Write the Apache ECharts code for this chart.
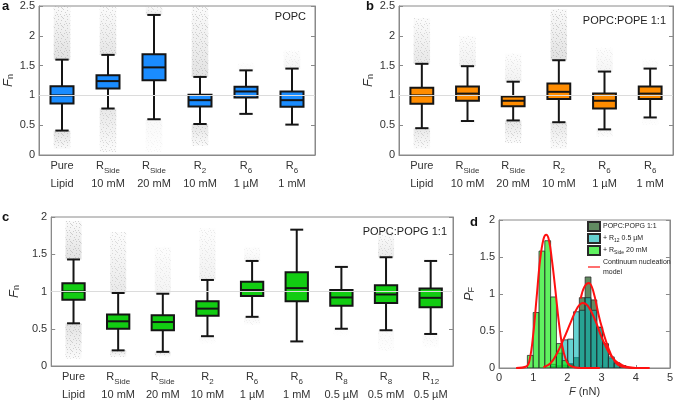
<!DOCTYPE html>
<html><head><meta charset="utf-8">
<script src="https://cdn.jsdelivr.net/npm/echarts@6/dist/echarts.min.js"></script>
<style>html,body{margin:0;padding:0;background:#fff}#c{width:676px;height:404px}</style>
</head><body><div id="c"></div>
<script>
// ---------- DATA ----------
const topAB = ['Pure','R','R','R','R','R'];
const subAB = ['','Side','Side','2','6','6'];
const botAB = ['Lipid','10 mM','20 mM','10 mM','1 µM','1 mM'];
const topC = ['Pure','R','R','R','R','R','R','R','R'];
const subC = ['','Side','Side','2','6','6','8','8','12'];
const botC = ['Lipid','10 mM','20 mM','10 mM','1 µM','1 mM','0.5 µM','0.5 mM','0.5 µM'];

// [low whisker, Q1, median, Q3, high whisker]
const boxA = [[0.41,0.865,1.0,1.155,1.60],[0.78,1.116,1.24,1.34,1.68],[0.60,1.256,1.47,1.69,2.35],
              [0.52,0.815,0.92,1.01,1.31],[0.69,0.965,1.066,1.144,1.42],[0.51,0.81,0.92,1.066,1.45]];
const boxB = [[0.45,0.86,1.0,1.13,1.53],[0.57,0.91,1.03,1.15,1.49],[0.58,0.82,0.91,0.98,1.23],
              [0.55,0.94,1.06,1.20,1.59],[0.43,0.78,0.91,1.03,1.40],[0.63,0.94,1.03,1.15,1.45]];
const boxC = [[0.573,0.89,1.0,1.11,1.43],[0.21,0.50,0.60,0.69,0.98],[0.19,0.48,0.59,0.68,0.97],
              [0.40,0.675,0.77,0.87,1.155],[0.66,0.94,1.02,1.13,1.41],[0.33,0.87,1.045,1.26,1.83],
              [0.50,0.81,0.92,1.02,1.33],[0.48,0.845,0.96,1.085,1.46],[0.43,0.79,0.915,1.04,1.41]];

// outlier clouds: [upper extent, upper density, lower extent, lower density]
const cloudA = [[2.5,0.9,0.1,0.85],[2.5,0.75,0.05,0.7],[2.5,0.6,0.05,0.2],[2.5,0.85,0.15,0.8],[1.55,0.12,0.6,0.06],[1.75,0.3,0.45,0.06]];
const cloudB = [[2.3,0.7,0.1,0.7],[2.0,0.45,0.5,0.1],[1.7,0.4,0.2,0.75],[2.45,0.9,0.1,0.7],[1.8,0.3,0.3,0.25],[1.6,0.12,0.5,0.12]];
const cloudC = [[1.95,0.9,0.1,0.85],[1.8,0.65,0.12,0.7],[1.6,0.35,0.13,0.7],[1.85,0.4,0.3,0.12],[1.6,0.25,0.55,0.25],
                [1.83,0,0.33,0],[1.4,0.06,0.4,0.06],[1.8,0.6,0.2,0.18],[1.45,0.06,0.25,0.18]];

// panel d histograms: bin left edges, bin width, heights
const binW = 0.17;
const edgesPG = [1.5,1.67,1.84,2.01,2.18,2.35,2.52,2.69,2.86,3.03,3.2,3.37,3.54];
const histPG  = [0.02,0.03,0.04,0.06,0.14,0.95,1.23,0.92,0.55,0.32,0.13,0.06,0.03];
const edgesR12 = [1.5,1.67,1.84,2.01,2.18,2.35,2.52,2.69,2.86,3.03,3.2,3.37,3.54];
const histR12  = [0.05,0.2,0.38,0.39,0.76,0.78,0.95,0.78,0.55,0.33,0.15,0.07,0.03];
const edgesSide = [0.83,1.0,1.17,1.34,1.51,1.68,1.85,2.02];
const histSide  = [0.17,0.75,1.58,1.72,0.96,0.33,0.1,0.04];

// continuum model curves (F, P_F)
const modelSide = [[0.5,0],[0.8,0.02],[0.9,0.12],[1.0,0.45],[1.1,0.95],[1.2,1.45],[1.3,1.74],[1.38,1.8],[1.46,1.73],
                   [1.55,1.45],[1.65,1.05],[1.75,0.62],[1.85,0.3],[1.95,0.12],[2.05,0.04],[2.2,0.01],[2.4,0],[2.95,0]];
const modelR12 = [[1.3,0.01],[1.5,0.06],[1.7,0.2],[1.9,0.4],[2.1,0.62],[2.3,0.82],[2.45,0.88],[2.6,0.84],[2.8,0.66],
                  [3.0,0.42],[3.2,0.22],[3.4,0.1],[3.6,0.04],[3.8,0.01],[4.0,0],[4.4,0]];
const modelPG = [[2.39,0.94],[2.5,1.1],[2.63,1.15],[2.75,1.05],[2.95,0.65],[3.2,0.27],[3.44,0.06],[3.7,0.01],[4.0,0],[4.4,0]];

// ---------- STYLE ----------
const FONT = 'Liberation Sans, Arial, sans-serif';
const AX = '#8a8a8a', TXT = '#333';

// speckle texture for the outlier clouds (fixed dot layout, purely decorative)
const speck = document.createElement('canvas');
speck.width = 9; speck.height = 9;
(function(){
  const g = speck.getContext('2d');
  g.fillStyle = 'rgba(150,150,150,0.45)';
  [[0,0],[4,1],[7,2],[2,3],[6,5],[1,6],[4,7],[8,8],[3,5],[7,7]].forEach(p=>g.fillRect(p[0],p[1],1,1));
})();

function catFmt(tops, subs, bots){
  return function(v, i){ return tops[i] + (subs[i] ? '{s|' + subs[i] + '}' : '') + '\n' + bots[i]; };
}
function xCat(gi, tops, subs, bots){
  return {type:'category', gridIndex:gi, data:tops.map((_,i)=>String(i)), boundaryGap:true,
    axisLine:{lineStyle:{color:AX}}, axisTick:{inside:true, alignWithLabel:true, length:3, lineStyle:{color:AX}},
    axisLabel:{formatter:catFmt(tops,subs,bots), color:TXT, fontSize:11, fontFamily:FONT, lineHeight:18, margin:2,
      interval:0, rich:{s:{fontSize:8, lineHeight:8, verticalAlign:'bottom', fontFamily:FONT, color:TXT}}}};
}
function yVal(gi, max, nameStr, nameGap){
  return {type:'value', gridIndex:gi, min:0, max:max, interval:0.5, name:nameStr, nameLocation:'middle', nameGap:nameGap,
    nameRotate:90, nameTextStyle:{color:TXT, fontSize:13, fontFamily:FONT,
      rich:{i:{fontStyle:'italic', fontSize:13, fontFamily:FONT, color:TXT}, s:{fontSize:9, lineHeight:9, verticalAlign:'bottom', fontFamily:FONT, color:TXT}}},
    axisLine:{show:true, lineStyle:{color:AX}}, axisTick:{show:true, inside:true, length:4, lineStyle:{color:AX}},
    splitLine:{show:false}, axisLabel:{color:TXT, fontSize:11, fontFamily:FONT, margin:4}};
}
function yRight(gi, max){
  return {type:'value', gridIndex:gi, min:0, max:max, interval:0.5, position:'right',
    axisLine:{show:true, lineStyle:{color:AX}}, axisTick:{show:true, inside:true, length:4, lineStyle:{color:AX}},
    axisLabel:{show:false}, splitLine:{show:false}};
}

function cloudRender(params, api){
  const x = api.value(0);
  const band = api.size([1,0])[0];
  const w = band*0.36;
  const hiFrom = api.coord([x, api.value(1)]), hiTo = api.coord([x, api.value(2)]);
  const loFrom = api.coord([x, api.value(4)]), loTo = api.coord([x, api.value(5)]);
  const dh = api.value(3), dl = api.value(6);
  const c = (a)=>'rgba(175,175,175,' + (a*0.42).toFixed(3) + ')';
  const kids = [];
  if (dh > 0) {
    const sh = {x:hiFrom[0]-w/2, y:hiTo[1], width:w, height:hiFrom[1]-hiTo[1]};
    kids.push({type:'rect', shape:sh,
      style:{fill:new echarts.graphic.LinearGradient(0,0,0,1,[{offset:0,color:c(dh*0.15)},{offset:0.55,color:c(dh*0.6)},{offset:1,color:c(dh)}])}});
    kids.push({type:'rect', shape:sh, style:{fill:{image:speck, repeat:'repeat'}, opacity:Math.min(1,dh)}});
  }
  if (dl > 0) {
    const sl = {x:loFrom[0]-w/2, y:loFrom[1], width:w, height:loTo[1]-loFrom[1]};
    kids.push({type:'rect', shape:sl,
      style:{fill:new echarts.graphic.LinearGradient(0,0,0,1,[{offset:0,color:c(dl)},{offset:0.45,color:c(dl*0.6)},{offset:1,color:c(dl*0.15)}])}});
    kids.push({type:'rect', shape:sl, style:{fill:{image:speck, repeat:'repeat'}, opacity:Math.min(1,dl)}});
  }
  return {type:'group', children:kids};
}
function boxRender(color){
  return function(params, api){
    const x = api.value(0);
    const lo = api.coord([x, api.value(1)]), q1 = api.coord([x, api.value(2)]), md = api.coord([x, api.value(3)]);
    const q3 = api.coord([x, api.value(4)]), hi = api.coord([x, api.value(5)]);
    const band = api.size([1,0])[0];
    const bw = band*0.5, cw = band*0.29, cx = lo[0];
    const ls = {stroke:'#151515', lineWidth:2};
    return {type:'group', children:[
      {type:'line', shape:{x1:cx,y1:lo[1],x2:cx,y2:q1[1]}, style:ls},
      {type:'line', shape:{x1:cx,y1:q3[1],x2:cx,y2:hi[1]}, style:ls},
      {type:'line', shape:{x1:cx-cw/2,y1:lo[1],x2:cx+cw/2,y2:lo[1]}, style:ls},
      {type:'line', shape:{x1:cx-cw/2,y1:hi[1],x2:cx+cw/2,y2:hi[1]}, style:ls},
      {type:'rect', shape:{x:cx-bw/2,y:q3[1],width:bw,height:q1[1]-q3[1]}, style:{fill:color, stroke:'#151515', lineWidth:2}},
      {type:'line', shape:{x1:cx-bw/2,y1:md[1],x2:cx+bw/2,y2:md[1]}, style:ls}
    ]};
  };
}
function boxSeries(ax, boxes, clouds, color){
  const refLine = {silent:true, symbol:'none', label:{show:false}, lineStyle:{color:'#dcdcdc', type:'solid', width:1}, data:[{yAxis:1}]};
  return [
    {type:'custom', xAxisIndex:ax, yAxisIndex:ax*2, renderItem:cloudRender, clip:true, silent:true, z:1,
      markLine:refLine,
      data:clouds.map((c,i)=>[i, boxes[i][4], c[0], c[1], boxes[i][0], c[2], c[3]])},
    {type:'custom', xAxisIndex:ax, yAxisIndex:ax*2, renderItem:boxRender(color), clip:false, silent:true, z:3,
      data:boxes.map((b,i)=>[i].concat(b))}
  ];
}
function histRender(params, api){
  const p0 = api.coord([api.value(0), api.value(2)]);
  const p1 = api.coord([api.value(1), 0]);
  return {type:'rect', shape:{x:p0[0], y:p0[1], width:p1[0]-p0[0], height:p1[1]-p0[1]},
    style:{fill:api.visual('color'), stroke:'#2a2a2a', lineWidth:0.8}};
}
function histSeries(name, edges, heights, color){
  return {type:'custom', name:name, xAxisIndex:3, yAxisIndex:6, renderItem:histRender, clip:true, silent:true,
    itemStyle:{color:color, borderColor:'#2a2a2a', borderWidth:0.8},
    encode:{x:[0,1], y:2},
    data:edges.map((e,i)=>[e, e+binW, heights[i]])};
}
function modelSeries(pts){
  return {type:'line', name:'Continuum nucleation model', xAxisIndex:3, yAxisIndex:6, data:pts, smooth:0.4,
    symbol:'none', showSymbol:false, lineStyle:{color:'#ff1010', width:2}, itemStyle:{color:'#ff1010'}, z:5, silent:true};
}

const legendNames = {
  'POPC:POPG 1:1':'POPC:POPG 1:1',
  'R12':'+ R{s|12} 0.5 µM',
  'RSide':'+ R{s|Side} 20 mM',
  'Continuum nucleation model':'Continuum nucleation\nmodel'
};
const lineIcon = 'path://M0,0L0,0M0,3.8L24,3.8L24,6.2L0,6.2ZM24,10L24,10';

const option = {
  animation:false,
  backgroundColor:'#fff',
  grid:[
    {left:39, top:6, width:276, height:149, show:true, borderColor:AX, borderWidth:1},
    {left:399, top:6, width:274, height:149, show:true, borderColor:AX, borderWidth:1},
    {left:39, top:217, width:414, height:150, show:true, borderColor:AX, borderWidth:1},
    {left:499, top:220, width:171, height:148, show:true, borderColor:AX, borderWidth:1}
  ],
  xAxis:[
    xCat(0, topAB, subAB, botAB),
    xCat(1, topAB, subAB, botAB),
    xCat(2, topC, subC, botC),
    {type:'value', gridIndex:3, min:0, max:5, interval:1, name:'{i|F} (nN)', nameLocation:'middle', nameGap:18,
      nameTextStyle:{color:TXT, fontSize:11, fontFamily:FONT, rich:{i:{fontStyle:'italic', fontSize:11, fontFamily:FONT, color:TXT}}},
      axisLine:{lineStyle:{color:AX}}, axisTick:{inside:true, length:3, lineStyle:{color:AX}}, splitLine:{show:false},
      axisLabel:{color:TXT, fontSize:11, fontFamily:FONT, margin:4}}
  ],
  yAxis:[
    yVal(0, 2.5, '{i|F}{s|n}', 24), yRight(0, 2.5),
    yVal(1, 2.5, '{i|F}{s|n}', 24), yRight(1, 2.5),
    yVal(2, 2, '{i|F}{s|n}', 24), yRight(2, 2),
    yVal(3, 2, '{i|P}{s|F}', 19), yRight(3, 2)
  ],
  legend:{
    left:585, top:219, padding:[2,2,2,2], orient:'vertical', itemWidth:12, itemHeight:9, itemGap:1,
    selectedMode:false,
    data:[{name:'POPC:POPG 1:1', icon:'rect'},{name:'R12', icon:'rect'},{name:'RSide', icon:'rect'},
          {name:'Continuum nucleation model', icon:lineIcon, itemStyle:{color:'#ff1010', borderWidth:0}}],
    formatter:(n)=>legendNames[n],
    textStyle:{fontSize:7, color:'#222', fontFamily:FONT, lineHeight:10, padding:[0,0,0,-2],
      rich:{s:{fontSize:5, lineHeight:5, verticalAlign:'bottom', fontFamily:FONT, color:'#222'}}}
  },
  graphic:[
    {type:'text', left:2, top:0, style:{text:'a', font:'bold 13px '+FONT, fill:'#111'}},
    {type:'text', left:366, top:0, style:{text:'b', font:'bold 13px '+FONT, fill:'#111'}},
    {type:'text', left:2, top:211, style:{text:'c', font:'bold 13px '+FONT, fill:'#111'}},
    {type:'text', left:470, top:216, style:{text:'d', font:'bold 13px '+FONT, fill:'#111'}},
    {type:'text', right:370, top:11, style:{text:'POPC', font:'11px '+FONT, fill:'#222'}},
    {type:'text', right:10, top:15, style:{text:'POPC:POPE 1:1', font:'11px '+FONT, fill:'#222'}},
    {type:'text', right:229, top:226, style:{text:'POPC:POPG 1:1', font:'11px '+FONT, fill:'#222'}}
  ],
  series:[].concat(
    boxSeries(0, boxA, cloudA, '#1a8cff'),
    boxSeries(1, boxB, cloudB, '#ff8c00'),
    boxSeries(2, boxC, cloudC, '#12cc12'),
    [histSeries('POPC:POPG 1:1', edgesPG, histPG, 'rgba(30,90,30,0.7)'),
     histSeries('R12', edgesR12, histR12, 'rgba(0,180,180,0.6)'),
     histSeries('RSide', edgesSide, histSide, 'rgba(20,235,20,0.68)'),
     modelSeries(modelPG), modelSeries(modelR12), modelSeries(modelSide)]
  )
};
const chart = echarts.init(document.getElementById('c'), null, {renderer:'canvas'});
chart.setOption(option);
</script></body></html>
